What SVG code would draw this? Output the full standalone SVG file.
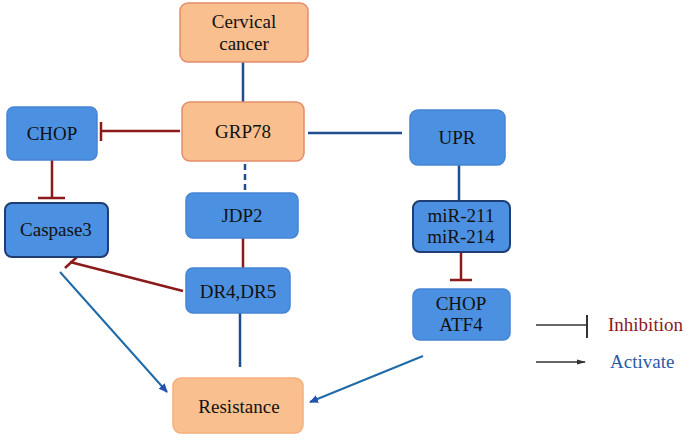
<svg xmlns="http://www.w3.org/2000/svg" width="685" height="441" viewBox="0 0 685 441">
<defs>
<style>
.or{fill:#F9BF8E;stroke:#E58C6A;stroke-width:1.5}
.bl{fill:#4C91E1;stroke:#4584D4;stroke-width:1.5}
.bd{fill:#4C91E1;stroke:#1F3D73;stroke-width:2}
text{font-family:"Liberation Serif","Times New Roman",serif;font-size:19px;fill:#111;text-anchor:middle}
.inh{stroke:#8B1A1A;stroke-width:2.5;fill:none}
.act{stroke:#1F4E8C;stroke-width:2.5;fill:none}
</style>
<marker id="ah" markerWidth="10" markerHeight="10" refX="8" refY="5" orient="auto" markerUnits="userSpaceOnUse">
<path d="M0,1 L9,5 L0,9 Z" fill="#2552B0"/>
</marker>
<marker id="ahl" markerWidth="10" markerHeight="8" refX="8" refY="4" orient="auto" markerUnits="userSpaceOnUse">
<path d="M0,1.5 L9,4 L0,6.5 Z" fill="#333"/>
</marker>
</defs>
<g id="connectors">
<line class="act" x1="243" y1="62" x2="243" y2="102"/>
<line class="inh" x1="180" y1="131" x2="101" y2="131"/>
<line class="inh" x1="101" y1="122" x2="101" y2="141"/>
<line class="inh" x1="52" y1="160" x2="52" y2="198"/>
<line class="inh" x1="38" y1="198" x2="65" y2="198"/>
<line class="act" x1="245" y1="164" x2="245" y2="190" stroke-dasharray="6,4" stroke-width="1.5"/>
<line class="inh" x1="243" y1="238" x2="243" y2="270"/>
<line class="inh" x1="183" y1="291" x2="70" y2="262"/>
<line class="inh" x1="65" y1="268" x2="77" y2="257"/>
<line class="act" x1="240" y1="313" x2="240" y2="367"/>
<line x1="60" y1="272" x2="167" y2="392" stroke="#1F6AA8" stroke-width="2" marker-end="url(#ah)"/>
<line class="act" x1="308" y1="133" x2="402" y2="133"/>
<line class="act" x1="459" y1="165" x2="459" y2="200"/>
<line class="inh" x1="461" y1="252" x2="461" y2="280"/>
<line class="inh" x1="450" y1="280" x2="472" y2="280"/>
<line x1="423" y1="356" x2="310" y2="402" stroke="#1F6AA8" stroke-width="2" marker-end="url(#ah)"/>
</g>
<g id="cervical"><rect class="or" x="180" y="3" width="128" height="59" rx="8"/><text x="244" y="28">Cervical</text><text x="244" y="50">cancer</text></g>
<g id="grp78"><rect class="or" x="182" y="102" width="122" height="59" rx="8"/><text x="243" y="138">GRP78</text></g>
<g id="chop1"><rect class="bl" x="7" y="107" width="90" height="53" rx="7"/><text x="52" y="140">CHOP</text></g>
<g id="caspase3"><rect class="bd" x="5" y="203" width="103" height="54" rx="7"/><text x="56" y="236">Caspase3</text></g>
<g id="jdp2"><rect class="bl" x="186" y="193" width="112" height="45" rx="7"/><text x="242" y="222">JDP2</text></g>
<g id="dr"><rect class="bl" x="186" y="268" width="104" height="45" rx="7"/><text x="238" y="298">DR4,DR5</text></g>
<g id="resistance"><rect class="or" x="173" y="378" width="130" height="55" rx="8" style="stroke:#F4B07C"/><text x="239" y="413">Resistance</text></g>
<g id="upr"><rect class="bl" x="410" y="110" width="95" height="55" rx="8"/><text x="457" y="144">UPR</text></g>
<g id="mir"><rect class="bd" x="413" y="201" width="97" height="51" rx="7"/><text x="461" y="222">miR-211</text><text x="461" y="243">miR-214</text></g>
<g id="chopatf4"><rect class="bl" x="413" y="289" width="97" height="51" rx="7"/><text x="461" y="310">CHOP</text><text x="461" y="331">ATF4</text></g>
<g id="legend">
<line x1="536" y1="325" x2="587" y2="325" stroke="#333" stroke-width="1.5"/>
<line x1="587" y1="315" x2="587" y2="338" stroke="#333" stroke-width="2"/>
<text x="608" y="331" style="text-anchor:start;fill:#8B1A1A">Inhibition</text>
<line x1="536" y1="362" x2="585" y2="362" stroke="#333" stroke-width="1.5" marker-end="url(#ahl)"/>
<text x="610" y="368" style="text-anchor:start;fill:#2A5AA8">Activate</text>
</g>
</svg>
